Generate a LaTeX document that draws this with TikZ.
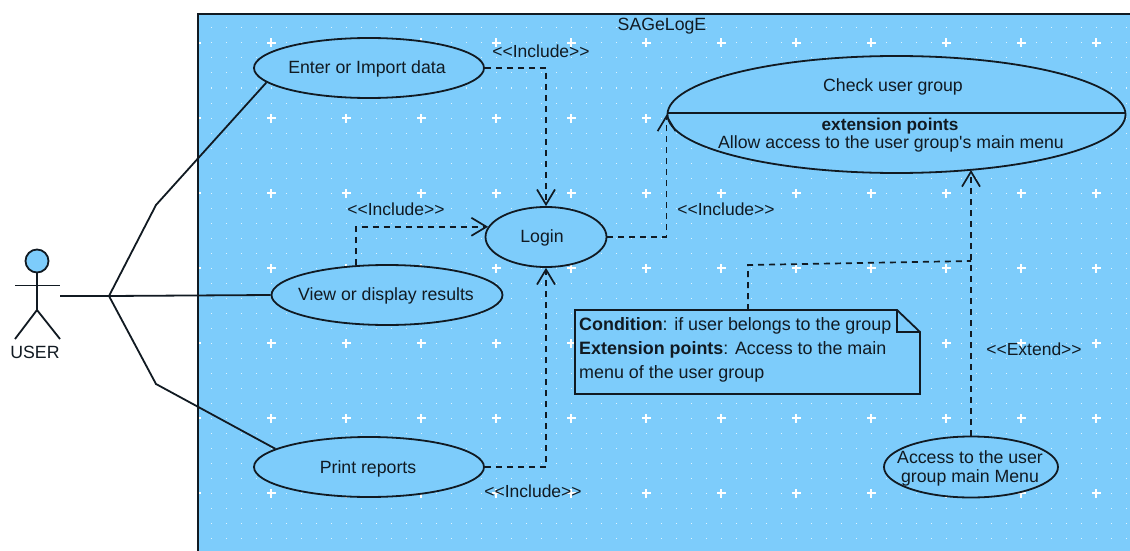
\documentclass[tikz,border=0pt]{standalone}
\usepackage{fontspec}
\setmainfont[Ligatures=NoCommon]{Liberation Sans}
\usetikzlibrary{arrows.meta,shapes.geometric}
\definecolor{sky}{HTML}{7DCCFB}
\definecolor{ink}{HTML}{111A22}
\newcommand{\ltx}{\fontsize{17.7}{19}\selectfont}
\newcommand{\incl}{{<}{<}Include{>}{>}}
\tikzset{
  x=1pt,y=-1pt,
  usecase/.style={ellipse,draw=ink,fill=sky,line width=1.8pt,inner sep=0pt,align=center},
  lbl/.style={inner sep=0pt,text=ink,font=\fontsize{17.5}{19}\selectfont},
  txt/.style={inner sep=0pt,text=ink,font=\ltx,align=center},
  assoc/.style={draw=ink,line width=1.8pt},
  dep/.style={draw=ink,line width=1.7pt,dash pattern=on 6pt off 5pt,-{Straight Barb[length=15pt,width=18pt,line width=1.7pt]}},
  depplain/.style={draw=ink,line width=1.7pt,dash pattern=on 6pt off 5pt},
  notebox/.style={draw=ink,fill=sky,line width=1.8pt},
}
\begin{document}
\begin{tikzpicture}
\useasboundingbox (0,0) rectangle (1130,551);
\fill[white] (0,0) rectangle (1130,551);
% system boundary
\fill[sky] (198,14) rectangle (1130,551);
\foreach \i in {0,...,61}{\foreach \j in {0,...,34}{
  \fill[white,opacity=.75] ({211+15*\i-0.5},{28+15*\j-0.5}) rectangle ++(1,1);}}
\foreach \i in {0,...,12}{\foreach \j in {0,...,6}{
  \fill[white] ({196+75*\i-4.5},{43+75*\j-0.6}) rectangle ++(9,1.2);
  \fill[white] ({196+75*\i-0.6},{43+75*\j-4.5}) rectangle ++(1.2,9);}}
\draw[ink,line width=1.7pt] (198,551) -- (198,14) -- (1130,14);
\node[txt] (sys) at (662,26) {SAGeLogE};
\coordinate (hub) at (109,296);
\coordinate (actorhand) at (60,296);
\coordinate (bendup) at (156,205);
\coordinate (benddown) at (156,384);
% use cases
\node[usecase,minimum width=230pt,minimum height=60pt] (enter) at (369,68) {};
\node[txt] (entert) at (367,69) {Enter or Import data};
\node[usecase,minimum width=231pt,minimum height=60pt] (view) at (387,295) {};
\node[txt] (viewt) at (386,296) {View or display results};
\node[usecase,minimum width=230pt,minimum height=60pt] (print) at (369,467) {};
\node[txt] (printt) at (368,469) {Print reports};
\node[usecase,minimum width=121pt,minimum height=60pt] (login) at (546,237) {};
\node[txt] (logint) at (542,238) {Login};
\node[usecase,minimum width=458pt,minimum height=117pt] (check) at (896.5,114.5) {};
\draw[ink,line width=1.6pt] (check.west) ++(0,-1.5) -- ++(458,0);
\node[txt] (checkt) at (893,87) {Check user group};
\node[txt,font=\fontsize{17.2}{19}\selectfont\bfseries] (extt) at (890,126) {extension points};
\node[txt] (allowt) at (891,144) {Allow access to the user group\textquotesingle s main menu};
\node[usecase,minimum width=174pt,minimum height=61pt] (access) at (971,467) {};
\node[txt] (accesst) at (970,468) {Access to the user\\group main Menu};
% actor
\node[circle,draw=ink,fill=sky,line width=1.8pt,minimum size=23pt,inner sep=0pt] (head) at (37,261) {};
\coordinate (hip) at (37,310);
\coordinate (armL) at (15,285.5);
\coordinate (armR) at (60,285.5);
\coordinate (legL) at (15,339);
\coordinate (legR) at (60,339);
\draw[assoc] (head.south) -- (hip);
\draw[assoc] (armL) -- (armR);
\draw[assoc] (legL) -- (hip) -- (legR);
\node[txt] (user) at (35,352) {USER};
% associations
\draw[assoc] (actorhand) -- (hub) -- (view.west);
\draw[assoc] (hub) -- (bendup) -- (enter.188.6);
\draw[assoc] (hub) -- (benddown) -- (print.169.6);
% dependencies
\draw[dep] (enter.east) -| (login.north);
\draw[dep] (view.136) |- (login.170);
\draw[dep] (print.east) -| (login.south);
\draw[dep] (login.east) -| (check.west);
\node[lbl] (inc1) at (541,51.5) {\incl};
\node[lbl] (inc2) at (396,209.5) {\incl};
\node[lbl] (inc3) at (726,209.5) {\incl};
\node[lbl] (inc4) at (533,491.5) {\incl};
\node[lbl] (ext) at (1034,349.5) {{<}{<}Extend{>}{>}};
\coordinate (checkbot) at (971,170);
\draw[dep] (access.north) -- (checkbot);
% note
\coordinate (notetop) at (748,310);
\coordinate (notebend) at (748,265);
\coordinate (noteend) at (971,261);
\draw[depplain] (notetop) -- (notebend) -- (noteend);
\draw[notebox] (575,310) -- (897,310) -- (920,332) -- (920,394) -- (575,394) -- cycle;
\draw[notebox,fill=none] (897,310) -- (897,332) -- (920,332);
\node[txt,anchor=west,font=\fontsize{17.9}{19}\selectfont] (n1) at (579,326) {\textbf{Condition}: if user belongs to the group};
\node[txt,anchor=west,font=\fontsize{17.9}{19}\selectfont] (n2) at (579,350) {\textbf{Extension points}: Access to the main};
\node[txt,anchor=west,font=\fontsize{17.9}{19}\selectfont] (n3) at (579,374) {menu of the user group};
\end{tikzpicture}
\end{document}
